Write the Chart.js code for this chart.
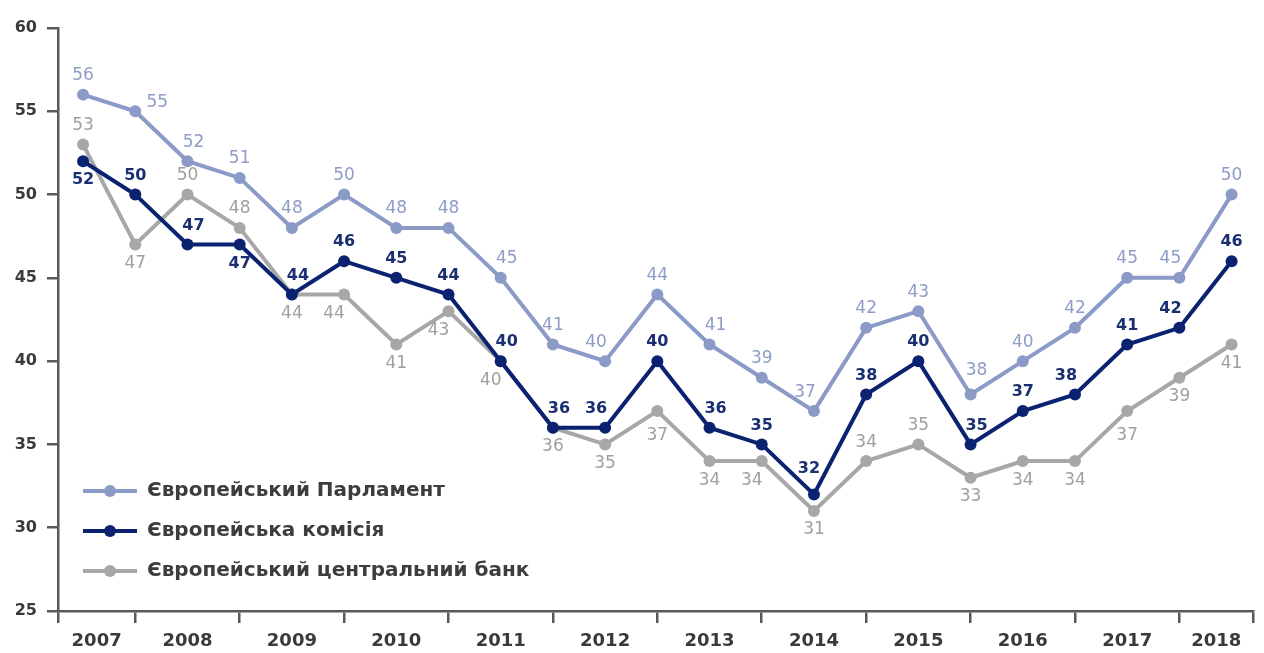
<!DOCTYPE html>
<html>
<head>
<meta charset="utf-8">
<script src="https://cdn.jsdelivr.net/npm/chart.js"></script>
<style>
html,body{margin:0;padding:0;background:#ffffff;}
canvas{display:block;}
</style>
</head>
<body>
<canvas id="c" width="1264" height="653"></canvas>
<script>
// ---------- data ----------
const years = ['2007','2008','2009','2010','2011','2012','2013','2014','2015','2016','2017','2018'];
const seriesNames = ['Європейський Парламент', 'Європейська комісія', 'Європейський центральний банк'];
const parliament = [56,55,52,51,48,50,48,48,45,41,40,44,41,39,37,42,43,38,40,42,45,45,50];
const commission = [52,50,47,47,44,46,45,44,40,36,36,40,36,35,32,38,40,35,37,38,41,42,46];
const ecb        = [53,47,50,48,44,44,41,43,40,36,35,37,34,34,31,34,35,33,34,34,37,39,41];
const yTicks = [25,30,35,40,45,50,55,60];

// label placement codes per point (a=above, A=high above, b=below, B=low below, r=right, ar/al above right/left, bl below left)
const parliamentPlace = ['a','r','ar','a','a','a','a','a','ar','a','al','a','ar','a','al','a','a','Ar','a','a','a','al','a'];
const commissionPlace = ['b','a','ar','b','ar','a','a','a','ar','ar','al','a','ar','a','A','a','a','ar','a','al','a','al','a'];
const ecbPlace        = ['a','b','a','a','b','bl','b','bl','bl','b','b','B','b','bl','b','a','a','b','b','b','B','b','b'];

// ---------- styles ----------
const colors = ['#8b9ac7', '#0b2270', '#a7a7a7'];
const labelColors = ['#8e9cc8', '#1a2e72', '#9f9f9f'];
const labelFonts = ['17px "DejaVu Sans"', 'bold 16px "DejaVu Sans"', '17px "DejaVu Sans"'];
const axisColor = '#595959';
const textColor = '#3a3a3a';
const offsets = {
  a: [0, -19], A: [-5, -26], Ar: [6, -24], b: [0, 19], B: [0, 24],
  r: [22, -9], ar: [6, -19], al: [-9, -19], bl: [-10, 19]
};

const values = [parliament, commission, ecb];
const places = [parliamentPlace, commissionPlace, ecbPlace];
const N = parliament.length;

function markerImage(color) {
  const c = document.createElement('canvas');
  c.width = 54; c.height = 16;
  const g = c.getContext('2d');
  g.strokeStyle = color; g.lineWidth = 4;
  g.beginPath(); g.moveTo(0, 8); g.lineTo(54, 8); g.stroke();
  g.fillStyle = color;
  g.beginPath(); g.arc(27, 8, 6, 0, Math.PI * 2); g.fill();
  return c;
}
const markers = colors.map(markerImage);

const datasets = values.map((arr, di) => ({
  label: seriesNames[di],
  data: arr.map((v, i) => ({x: i, y: v})),
  borderColor: colors[di],
  backgroundColor: colors[di],
  pointBackgroundColor: colors[di],
  pointBorderColor: colors[di],
  pointBorderWidth: 0,
  pointRadius: 6,
  borderWidth: 4,
  tension: 0,
  fill: false
}));

const pointLabels = {
  id: 'pointLabels',
  afterDatasetsDraw(chart) {
    const ctx = chart.ctx;
    chart.data.datasets.forEach((ds, di) => {
      const meta = chart.getDatasetMeta(di);
      ctx.save();
      ctx.font = labelFonts[di];
      ctx.fillStyle = labelColors[di];
      ctx.textAlign = 'center';
      ctx.textBaseline = 'middle';
      meta.data.forEach((pt, i) => {
        const o = offsets[places[di][i]] || offsets.a;
        ctx.fillText(String(ds.data[i].y), pt.x + o[0], pt.y + o[1]);
      });
      ctx.restore();
    });
  }
};

const legendPlacer = {
  id: 'legendPlacer',
  afterLayout(chart) {
    const lg = chart.legend, ca = chart.chartArea;
    if (!lg) return;
    lg.left = ca.left + 5;
    lg.top = ca.top;
    lg.bottom = ca.bottom - 10;
  }
};

new Chart(document.getElementById('c'), {
  type: 'line',
  data: { datasets },
  plugins: [pointLabels, legendPlacer],
  options: {
    responsive: false,
    animation: false,
    devicePixelRatio: 1,
    layout: { padding: { left: 0, top: 28, right: 11, bottom: 0 } },
    plugins: {
      tooltip: { enabled: false },
      legend: {
        position: 'chartArea',
        align: 'end',
        labels: {
          usePointStyle: true,
          pointStyleWidth: 54,
          padding: 20,
          color: '#3d3d3d',
          font: { family: 'DejaVu Sans', weight: 'bold', size: 20 },
          generateLabels: (chart) => chart.data.datasets.map((ds, i) => ({
            text: ds.label,
            pointStyle: markers[i],
            fillStyle: colors[i],
            strokeStyle: colors[i],
            lineWidth: 0,
            hidden: false,
            datasetIndex: i,
            fontColor: '#3d3d3d'
          }))
        }
      }
    },
    scales: {
      x: {
        type: 'linear',
        min: -0.48,
        max: 22.41,
        afterBuildTicks(scale) {
          const b = [scale.min];
          for (let i = 1; i < N - 1; i += 2) b.push(i);
          b.push(scale.max);
          const t = b.map(v => ({value: v, boundary: true}));
          for (let k = 0; k < years.length && k + 1 < b.length; k++) {
            t.push({value: (b[k] + b[k + 1]) / 2, yearIdx: k});
          }
          t.sort((p, q) => p.value - q.value);
          scale.ticks = t;
        },
        afterFit(scale) { scale.height = 42; },
        ticks: {
          autoSkip: false,
          maxRotation: 0,
          minRotation: 0,
          padding: 8,
          color: textColor,
          font: { family: 'DejaVu Sans', weight: 'bold', size: 18 },
          callback: function(value, index, ticks) {
            const t = ticks[index];
            return (t && t.yearIdx !== undefined) ? years[t.yearIdx] : '';
          }
        },
        grid: {
          drawOnChartArea: false,
          drawTicks: true,
          tickLength: 12,
          color: (ctx) => (ctx.tick && ctx.tick.boundary) ? axisColor : 'rgba(0,0,0,0)',
          lineWidth: (ctx) => (ctx.tick && ctx.tick.boundary) ? 2.5 : 0
        },
        border: { display: true, color: axisColor, width: 2.5 }
      },
      y: {
        min: 25,
        max: 60,
        afterBuildTicks(scale) { scale.ticks = yTicks.map(v => ({value: v})); },
        afterFit(scale) { scale.width = 58; },
        ticks: {
          padding: 10,
          color: textColor,
          font: { family: 'DejaVu Sans', weight: 'bold', size: 16 }
        },
        grid: {
          drawOnChartArea: false,
          drawTicks: true,
          tickLength: 11,
          color: axisColor,
          lineWidth: 2.5
        },
        border: { display: true, color: axisColor, width: 2.5 }
      }
    }
  }
});
</script>
</body>
</html>
